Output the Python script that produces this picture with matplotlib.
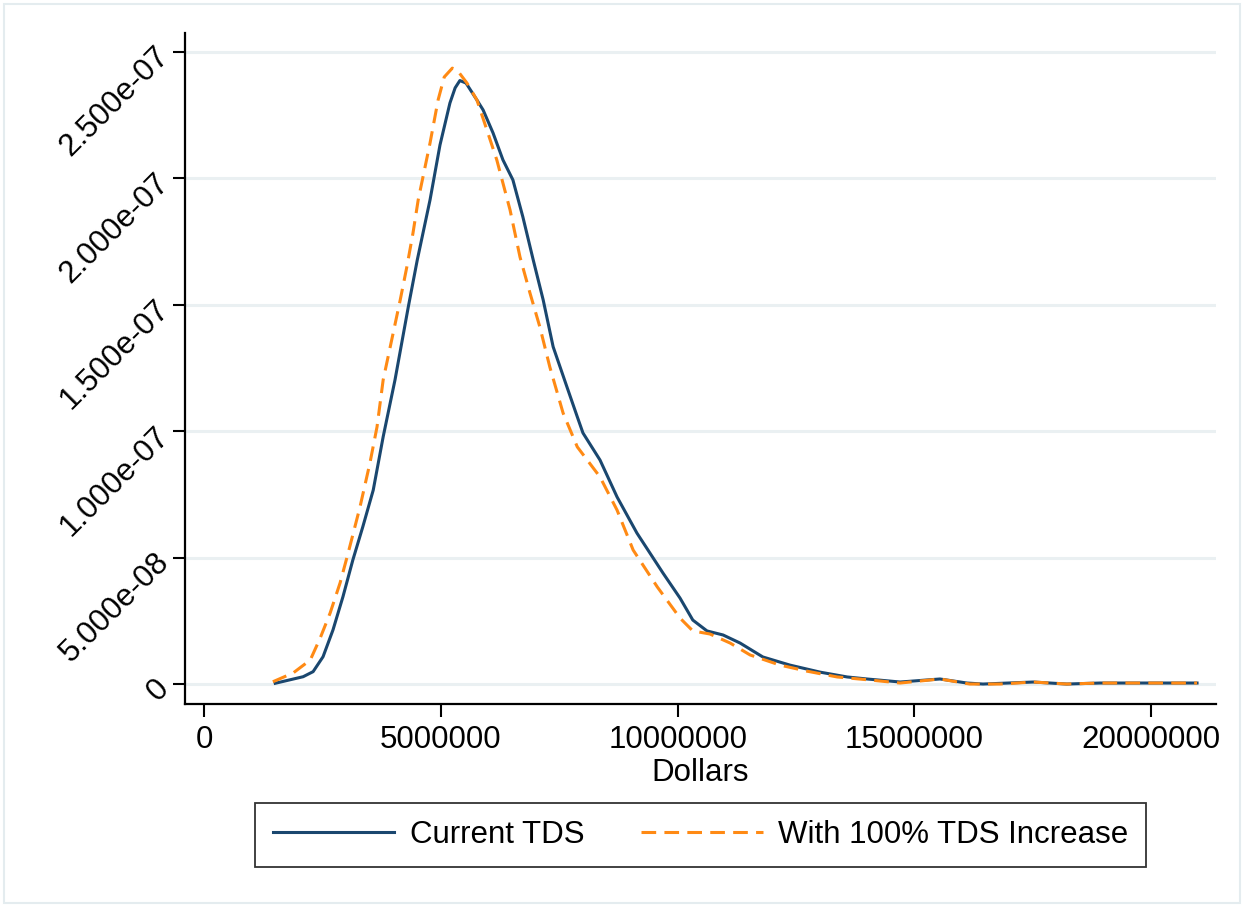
import matplotlib
matplotlib.use('Agg')
import matplotlib.pyplot as plt
from matplotlib.patches import Rectangle
from matplotlib.ticker import FixedLocator, FuncFormatter
import numpy as np

plt.rcParams['font.family'] = ['Liberation Sans', 'DejaVu Sans']

# 核密度曲线（美元，单位：百万；密度，单位：1e-8）
current_x = [1.50, 2.09, 2.30, 2.51, 2.72, 2.93, 3.14, 3.35, 3.57, 3.78, 4.03, 4.31,
             4.50, 4.77, 4.98, 5.19, 5.30, 5.40, 5.53, 5.76, 5.89, 6.10, 6.31, 6.52,
             6.73, 6.95, 7.16, 7.37, 7.66, 7.88, 8.00, 8.36, 8.72, 9.14, 9.69, 10.05,
             10.32, 10.62, 10.96, 11.32, 11.80, 12.37, 13.01, 13.58, 14.00, 14.70,
             15.54, 16.11, 16.45, 17.51, 18.22, 18.92, 19.62, 20.97]
current_y = [0.03, 0.29, 0.49, 1.08, 2.14, 3.45, 4.91, 6.22, 7.67, 9.78, 12.03, 14.91,
             16.77, 19.15, 21.32, 22.98, 23.58, 23.87, 23.77, 23.10, 22.71, 21.80, 20.73, 19.94,
             18.48, 16.77, 15.19, 13.34, 11.76, 10.57, 9.93, 8.86, 7.40, 5.97, 4.39, 3.40,
             2.53, 2.10, 1.94, 1.62, 1.07, 0.75, 0.47, 0.28, 0.20, 0.08,
             0.20, 0.04, 0.00, 0.08, 0.00, 0.04, 0.04, 0.04]

increase_x = [1.45, 1.88, 2.24, 2.45, 2.66, 2.87, 3.04, 3.29, 3.50, 3.65, 3.78, 4.14,
              4.28, 4.41, 4.52, 4.77, 4.94, 5.07, 5.24, 5.34, 5.55, 5.76, 5.97, 6.18,
              6.46, 6.67, 6.88, 7.09, 7.30, 7.58, 7.88, 8.36, 8.72, 9.06, 9.57, 10.05,
              10.32, 10.68, 11.11, 11.53, 12.16, 12.73, 13.37, 14.06, 14.70, 15.54,
              16.17, 16.81, 17.51, 18.22, 18.92, 19.62, 20.97]
increase_y = [0.09, 0.44, 0.95, 1.82, 2.81, 4.00, 5.18, 7.00, 8.74, 10.17, 12.03, 15.19,
              16.50, 17.84, 19.15, 21.40, 23.10, 24.01, 24.36, 24.29, 23.77, 23.10, 21.92, 20.73,
              18.75, 16.89, 15.47, 14.12, 12.54, 10.72, 9.38, 8.19, 6.88, 5.30, 3.84, 2.61,
              2.10, 1.98, 1.62, 1.15, 0.75, 0.51, 0.28, 0.16, 0.04, 0.20,
              0.00, 0.00, 0.08, 0.00, 0.04, 0.04, 0.04]

labels = ['Current TDS', 'With 100% TDS Increase']
x_ticks = [0, 5000000, 10000000, 15000000, 20000000]
y_ticks = [0, 5e-8, 1e-7, 1.5e-7, 2e-7, 2.5e-7]

navy = '#1a476f'
orange = '#ff8a14'
grid_color = '#eaf0f2'

fig = plt.figure(figsize=(12.46, 9.07), dpi=100)
ax = fig.add_axes([0.1485, 0.2238, 0.8274, 0.7398])

ax.plot(np.array(current_x) * 1e6, np.array(current_y) * 1e-8,
        color=navy, lw=2.2, label=labels[0], zorder=3, solid_joinstyle='round')
ax.plot(np.array(increase_x) * 1e6, np.array(increase_y) * 1e-8,
        color=orange, lw=2.2, dashes=(4.8, 2.7), label=labels[1], zorder=4)

ax.set_xlim(-0.405e6, 21.37e6)
ax.set_ylim(-7.9e-9, 2.575e-7)

ax.xaxis.set_major_locator(FixedLocator(x_ticks))
ax.yaxis.set_major_locator(FixedLocator(y_ticks))
ax.xaxis.set_major_formatter(FuncFormatter(lambda v, p: '%d' % v))
ax.yaxis.set_major_formatter(FuncFormatter(lambda v, p: '0' if v == 0 else '%.3e' % v))

# 横向网格线
ax.grid(axis='y', color=grid_color, lw=2.2)
ax.set_axisbelow(True)

for side in ['top', 'right']:
    ax.spines[side].set_visible(False)
for side in ['left', 'bottom']:
    ax.spines[side].set_linewidth(1.6)

ax.tick_params(axis='both', length=9, width=1.5, labelsize=22.5, pad=6)
plt.setp(ax.get_yticklabels(), rotation=45, ha='right', va='center', rotation_mode='anchor')

ax.set_xlabel('Dollars', fontsize=22.5, labelpad=2)

leg = fig.legend(loc='center', bbox_to_anchor=(0.5622, 0.0794), ncol=2,
                 fontsize=22.5, handlelength=3.9, handletextpad=0.5,
                 columnspacing=1.8, borderpad=0.55, fancybox=False)
leg.get_frame().set_edgecolor('black')
leg.get_frame().set_linewidth(1.3)

# 外框
fig.patches.append(Rectangle((0.003, 0.004), 0.992, 0.992, transform=fig.transFigure,
                             fill=False, edgecolor='#e4ecef', lw=1.5))

plt.savefig('out.png', dpi=100)
